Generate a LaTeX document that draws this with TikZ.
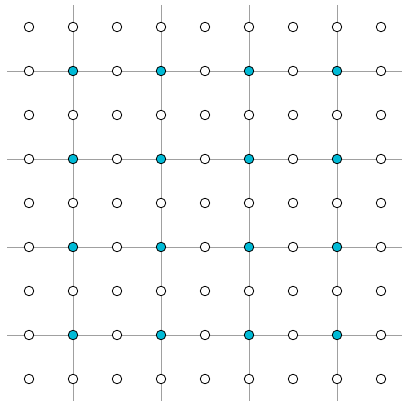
\documentclass[tikz,border=0pt]{standalone}
\definecolor{dotcyan}{RGB}{0,186,214}
\definecolor{linegray}{RGB}{160,160,160}
\tikzset{
  gridline/.style={draw=linegray, line width=0.9pt},
  opendot/.style={circle, draw=black, fill=white, line width=0.8pt, minimum size=9.5pt, inner sep=0pt},
  filldot/.style={circle, draw=black, fill=dotcyan, line width=0.8pt, minimum size=9.5pt, inner sep=0pt}
}
\begin{document}
\begin{tikzpicture}[x=1pt,y=-1pt]
\useasboundingbox (0,0) rectangle (402,401);
\foreach \k in {1,3,5,7} {
  \coordinate (vt\k) at ({29+44*\k},5);
  \coordinate (vb\k) at ({29+44*\k},401);
  \coordinate (hl\k) at (7,{27+44*\k});
  \coordinate (hr\k) at (403,{27+44*\k});
  \draw[gridline] (vt\k) -- (vb\k);
  \draw[gridline] (hl\k) -- (hr\k);
}
\foreach \i in {0,...,8} {
  \foreach \j in {0,...,8} {
    \pgfmathtruncatemacro{\oi}{mod(\i,2)}
    \pgfmathtruncatemacro{\oj}{mod(\j,2)}
    \ifnum\oi=1 \ifnum\oj=1
      \node[filldot] (d\i-\j) at ({29+44*\i},{27+44*\j}) {};
    \else
      \node[opendot] (d\i-\j) at ({29+44*\i},{27+44*\j}) {};
    \fi\else
      \node[opendot] (d\i-\j) at ({29+44*\i},{27+44*\j}) {};
    \fi
  }
}
\end{tikzpicture}
\end{document}
